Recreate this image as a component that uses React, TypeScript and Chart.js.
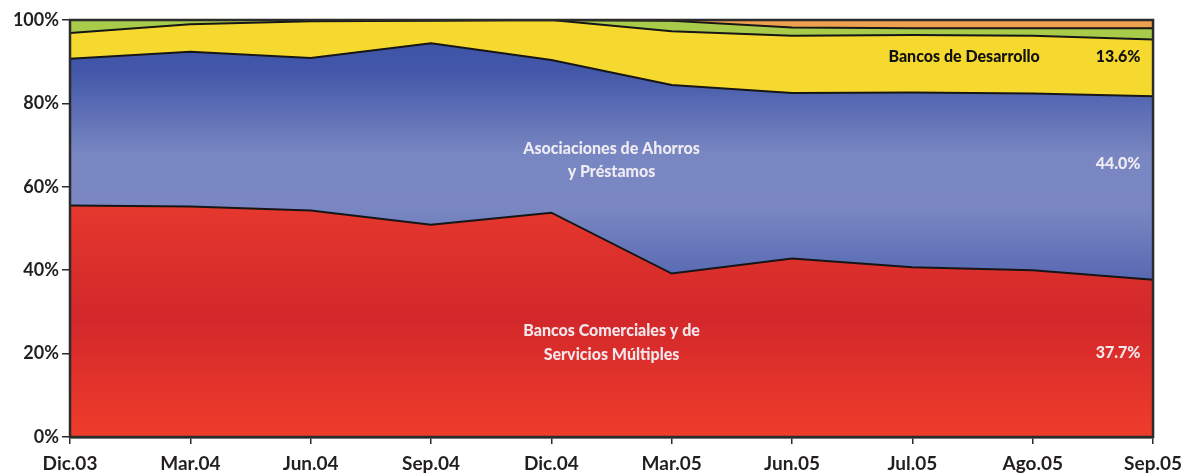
import React, { useEffect, useRef } from "react";
import { Chart, registerables } from "chart.js";

Chart.register(...registerables);

const categories = ["Dic.03", "Mar.04", "Jun.04", "Sep.04", "Dic.04", "Mar.05", "Jun.05", "Jul.05", "Ago.05", "Sep.05"];
const bancosComerciales = [55.5, 55.3, 54.3, 50.9, 53.8, 39.2, 42.8, 40.7, 40.0, 37.7];
const asociaciones = [35.2, 37.1, 36.6, 43.5, 36.6, 45.2, 39.7, 41.9, 42.4, 44.0];
const bancosDesarrollo = [6.2, 6.6, 8.8, 5.4, 9.6, 12.9, 13.7, 13.8, 13.8, 13.6];
const otrosVerde = [3.1, 1.0, 0.3, 0.2, 0.0, 2.5, 2.0, 1.6, 1.8, 2.7];
const otrosNaranja = [0.0, 0.0, 0.0, 0.0, 0.0, 0.2, 1.8, 2.0, 2.0, 2.0];
const yTicks = [0, 20, 40, 60, 80, 100];

const FONT = "Lato, 'DejaVu Sans', sans-serif";

function grad(stops: [number, string][], fallback: string) {
  return (ctx: any) => {
    const chart = ctx.chart;
    const area = chart.chartArea;
    if (!area) return fallback;
    const g = chart.ctx.createLinearGradient(0, area.top, 0, area.bottom);
    stops.forEach(([p, c]) => g.addColorStop(p, c));
    return g;
  };
}

const framePlugin = {
  id: "frame",
  afterDatasetsDraw(chart: any) {
    const { ctx, chartArea: a } = chart;
    ctx.save();
    ctx.strokeStyle = "#2b2b2b";
    ctx.lineWidth = 2.5;
    ctx.strokeRect(a.left, a.top, a.right - a.left, a.bottom - a.top);
    ctx.restore();
  },
};

const labelsPlugin = {
  id: "areaLabels",
  afterDraw(chart: any) {
    const { ctx } = chart;
    const xs = chart.scales.x;
    const ys = chart.scales.y;
    const last = categories.length - 1;
    const put = (text: string, xv: number, yv: number, color: string, size: number, weight: string) => {
      ctx.save();
      ctx.font = `${weight} ${size}px ${FONT}`;
      ctx.fillStyle = color;
      ctx.textAlign = "center";
      ctx.textBaseline = "middle";
      ctx.fillText(text, xs.getPixelForValue(xv), ys.getPixelForValue(yv));
      ctx.restore();
    };
    const white = "rgba(244,240,246,0.95)";
    put("Bancos de Desarrollo", 7.43, 91.1, "#111", 16, "900");
    put(bancosDesarrollo[last].toFixed(1) + "%", 8.71, 91.1, "#111", 16, "900");
    put("Asociaciones de Ahorros", 4.5, 69.2, white, 16, "900");
    put("y Préstamos", 4.5, 63.6, white, 16, "900");
    put(asociaciones[last].toFixed(1) + "%", 8.71, 65.6, white, 16, "900");
    put("Bancos Comerciales y de", 4.5, 25.4, white, 16, "900");
    put("Servicios Múltiples", 4.5, 19.6, white, 16, "900");
    put(bancosComerciales[last].toFixed(1) + "%", 8.71, 20.2, white, 16, "900");
  },
};

export default function App() {
  const ref = useRef<HTMLCanvasElement>(null);
  useEffect(() => {
    document.body.style.margin = "0";
    const line = { borderColor: "#161616", borderWidth: 2, pointRadius: 0, tension: 0 };
    const chart = new Chart(ref.current!, {
      type: "line",
      data: {
        labels: categories,
        datasets: [
          {
            label: "Bancos Comerciales y de Servicios Múltiples",
            data: bancosComerciales,
            fill: "origin",
            backgroundColor: grad(
              [
                [0, "#e8352c"],
                [0.45, "#e4372d"],
                [0.72, "#d3282b"],
                [1, "#ef3d2b"],
              ],
              "#e0322b"
            ),
            ...line,
          },
          {
            label: "Asociaciones de Ahorros y Préstamos",
            data: asociaciones,
            fill: "-1",
            backgroundColor: grad(
              [
                [0, "#3a51a4"],
                [0.12, "#4257a9"],
                [0.32, "#7886c1"],
                [0.45, "#7a87c2"],
                [0.6, "#5c6db5"],
                [0.72, "#4256a8"],
                [1, "#3d52a5"],
              ],
              "#5a6bb4"
            ),
            ...line,
          },
          {
            label: "Bancos de Desarrollo",
            data: bancosDesarrollo,
            fill: "-1",
            backgroundColor: "#f6d92e",
            ...line,
          },
          {
            label: "Otros",
            data: otrosVerde,
            fill: "-1",
            backgroundColor: "#a9cb4a",
            ...line,
          },
          {
            label: "Otros 2",
            data: otrosNaranja,
            fill: "-1",
            backgroundColor: "#eda04e",
            ...line,
          },
        ],
      },
      options: {
        animation: false,
        responsive: false,
        layout: { padding: { top: 20, right: 30, left: 0, bottom: 0 } },
        plugins: { legend: { display: false }, tooltip: { enabled: false } },
        scales: {
          x: {
            offset: false,
            grid: { drawOnChartArea: false, drawTicks: true, tickLength: 7, color: "#2b2b2b", lineWidth: 1.5 },
            border: { display: true, color: "#2b2b2b", width: 2.5 },
            ticks: {
              color: "#231f20",
              font: { family: FONT, size: 19, weight: "bold" },
              padding: 8,
              maxRotation: 0,
              autoSkip: false,
            },
            afterFit: (s: any) => {
              s.height = 37;
            },
          },
          y: {
            stacked: true,
            min: 0,
            max: 100,
            afterBuildTicks: (s: any) => {
              s.ticks = yTicks.map((v) => ({ value: v }));
            },
            grid: { drawOnChartArea: false, drawTicks: true, tickLength: 8, color: "#2b2b2b", lineWidth: 1.5 },
            border: { display: true, color: "#2b2b2b", width: 2.5 },
            ticks: {
              color: "#231f20",
              font: { family: FONT, size: 18, weight: "bold" },
              padding: 3,
              callback: (v: any) => v + "%",
            },
            afterFit: (s: any) => {
              s.width = 70;
            },
          },
        },
      },
      plugins: [framePlugin, labelsPlugin],
    });
    return () => chart.destroy();
  }, []);
  return <canvas ref={ref} width={1190} height={474} style={{ display: "block" }} />;
}
